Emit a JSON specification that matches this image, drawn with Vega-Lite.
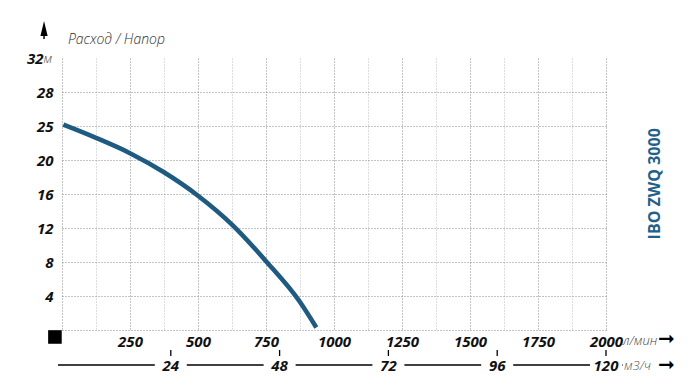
{
  "$schema": "https://vega.github.io/schema/vega-lite/v6.json",
  "width": 544,
  "height": 272,
  "autosize": {"type": "none"},
  "padding": {"left": 62, "top": 58, "right": 94, "bottom": 53},
  "background": "white",
  "config": {"view": {"stroke": null}, "font": "Open Sans"},
  "datasets": {
    "curve": [
      {"flow": 5, "head": 24.15},
      {"flow": 125, "head": 22.6},
      {"flow": 250, "head": 20.8},
      {"flow": 375, "head": 18.55},
      {"flow": 500, "head": 15.8},
      {"flow": 625, "head": 12.4},
      {"flow": 750, "head": 8.1},
      {"flow": 875, "head": 3.3},
      {"flow": 935, "head": 0.3}
    ],
    "m3h": [
      {"m3h": "24", "flow": 400},
      {"m3h": "48", "flow": 800},
      {"m3h": "72", "flow": 1200},
      {"m3h": "96", "flow": 1600},
      {"m3h": "120", "flow": 2000}
    ],
    "one": [{}]
  },
  "layer": [
    {
      "data": {"name": "curve"},
      "mark": {"type": "line", "interpolate": "monotone", "color": "#1f5a80", "strokeWidth": 4.6, "strokeCap": "butt"},
      "encoding": {
        "x": {"field": "flow", "type": "quantitative", "scale": {"domain": [0, 2000], "nice": false, "zero": false},
          "axis": {"orient": "bottom", "values": [0, 125, 250, 375, 500, 625, 750, 875, 1000, 1125, 1250, 1375, 1500, 1625, 1750, 1875, 2000],
            "tickCount": 100,
            "format": "d",
            "labelExpr": "datum.value % 250 == 0 && datum.value > 0 ? datum.label : ''",
            "grid": true, "gridDash": [1, 2], "gridWidth": 1,
            "gridColor": {"condition": {"test": "datum.value % 250 == 0", "value": "#888888"}, "value": "#bbbbbb"},
            "domain": false, "ticks": false, "tickSize": 0, "labelPadding": 4,
            "labelFont": "Open Sans", "labelFontSize": 15, "labelFontWeight": "bold", "labelFontStyle": "italic", "labelColor": "#111111",
            "labelFlush": false, "labelOverlap": false, "labelBound": false, "title": null}},
        "y": {"field": "head", "type": "quantitative", "scale": {"domain": [0, 32], "nice": false, "zero": false},
          "axis": {"values": [0, 4, 8, 12, 16, 20, 24, 28, 32],
            "tickCount": 100,
            "format": "d",
            "labelExpr": "datum.value == 24 ? '25' : datum.value == 0 ? '' : datum.label",
            "grid": true, "gridDash": [1, 2], "gridWidth": 1, "gridColor": "#888888",
            "gridOpacity": {"condition": {"test": "datum.value == 32", "value": 0}, "value": 1},
            "domain": false, "ticks": false, "tickSize": 0,
            "labelPadding": {"condition": {"test": "datum.value == 32", "value": 19}, "value": 9},
            "labelFont": "Open Sans", "labelFontSize": 15, "labelFontWeight": "bold", "labelFontStyle": "italic", "labelColor": "#111111",
            "labelFlush": false, "labelOverlap": false, "title": null}}
      }
    },
    {
      "data": {"name": "one"},
      "mark": {"type": "rule", "color": "black", "strokeWidth": 1.5},
      "encoding": {
        "x": {"datum": -14.7, "type": "quantitative"},
        "x2": {"datum": 2150},
        "y": {"datum": -4.12, "type": "quantitative"}
      }
    },
    {
      "data": {"name": "m3h"},
      "mark": {"type": "point", "shape": "M-1,-0.45 H1 V0.45 H-1 Z", "filled": true, "color": "white", "opacity": 1, "size": 1024},
      "encoding": {
        "x": {"field": "flow", "type": "quantitative"},
        "y": {"datum": -4.12, "type": "quantitative"}
      }
    },
    {
      "data": {"name": "one"},
      "mark": {"type": "point", "shape": "M-1,-0.45 H1 V0.45 H-1 Z", "filled": true, "color": "white", "opacity": 1, "size": 1024},
      "encoding": {
        "x": {"datum": 2120, "type": "quantitative"},
        "y": {"datum": -4.12, "type": "quantitative"}
      }
    },
    {
      "data": {"name": "m3h"},
      "mark": {"type": "text", "align": "center", "baseline": "middle", "font": "Open Sans", "fontSize": 15, "fontWeight": "bold", "fontStyle": "italic", "color": "#111111"},
      "encoding": {
        "x": {"field": "flow", "type": "quantitative"},
        "y": {"datum": -4.2, "type": "quantitative"},
        "text": {"field": "m3h", "type": "nominal"}
      }
    },
    {
      "data": {"name": "m3h"},
      "mark": {"type": "rule", "color": "black", "strokeWidth": 1.3},
      "encoding": {
        "x": {"field": "flow", "type": "quantitative"},
        "y": {"datum": -2.35, "type": "quantitative"},
        "y2": {"datum": -3.06}
      }
    },
    {
      "data": {"name": "one"},
      "mark": {"type": "text", "text": "Расход / Напор", "align": "left", "baseline": "middle", "font": "Open Sans", "fontSize": 14, "fontStyle": "italic", "fontWeight": 300, "color": "#333333"},
      "encoding": {
        "x": {"datum": 22, "type": "quantitative"},
        "y": {"datum": 34.1, "type": "quantitative"}
      }
    },
    {
      "data": {"name": "one"},
      "mark": {"type": "point", "shape": "square", "filled": true, "color": "black", "opacity": 1, "size": 185},
      "encoding": {
        "x": {"datum": -26, "type": "quantitative"},
        "y": {"datum": -0.82, "type": "quantitative"}
      }
    },
    {
      "data": {"name": "one"},
      "mark": {"type": "point", "shape": "M0,-1 L0.4,0.67 L0.08,0.67 L0.08,1 L-0.08,1 L-0.08,0.67 L-0.4,0.67 Z", "filled": true, "color": "black", "opacity": 1, "size": 324},
      "encoding": {
        "x": {"datum": -66, "type": "quantitative"},
        "y": {"datum": 35.3, "type": "quantitative"}
      }
    },
    {
      "data": {"name": "one"},
      "mark": {"type": "text", "text": "➞", "align": "left", "baseline": "middle", "dx": 3, "font": "DejaVu Sans", "fontSize": 20, "color": "black"},
      "encoding": {
        "x": {"datum": 2180, "type": "quantitative"},
        "y": {"datum": -1.06, "type": "quantitative"}
      }
    },
    {
      "data": {"name": "one"},
      "mark": {"type": "text", "text": "➞", "align": "left", "baseline": "middle", "dx": 3, "font": "DejaVu Sans", "fontSize": 20, "color": "black"},
      "encoding": {
        "x": {"datum": 2180, "type": "quantitative"},
        "y": {"datum": -4.12, "type": "quantitative"}
      }
    },
    {
      "data": {"name": "one"},
      "mark": {"type": "text", "text": "л/мин", "align": "left", "baseline": "middle", "font": "Open Sans", "fontSize": 13, "fontStyle": "italic", "fontWeight": 300, "color": "#444444"},
      "encoding": {
        "x": {"datum": 2062, "type": "quantitative"},
        "y": {"datum": -1.3, "type": "quantitative"}
      }
    },
    {
      "data": {"name": "one"},
      "mark": {"type": "text", "text": "м3/ч", "align": "left", "baseline": "middle", "font": "Open Sans", "fontSize": 13, "fontStyle": "italic", "fontWeight": 300, "color": "#555555"},
      "encoding": {
        "x": {"datum": 2066, "type": "quantitative"},
        "y": {"datum": -4.2, "type": "quantitative"}
      }
    },
    {
      "data": {"name": "one"},
      "mark": {"type": "text", "text": "м", "align": "left", "baseline": "middle", "font": "Open Sans", "fontSize": 13, "fontStyle": "italic", "fontWeight": 300, "color": "#444444"},
      "encoding": {
        "x": {"datum": -68, "type": "quantitative"},
        "y": {"datum": 31.9, "type": "quantitative"}
      }
    },
    {
      "data": {"name": "one"},
      "mark": {"type": "text", "text": "IBO ZWQ 3000", "align": "center", "baseline": "middle", "angle": 270, "font": "Open Sans", "fontSize": 16, "fontWeight": "bold", "color": "#22608a"},
      "encoding": {
        "x": {"datum": 2180, "type": "quantitative"},
        "y": {"datum": 17.2, "type": "quantitative"}
      }
    }
  ]
}
